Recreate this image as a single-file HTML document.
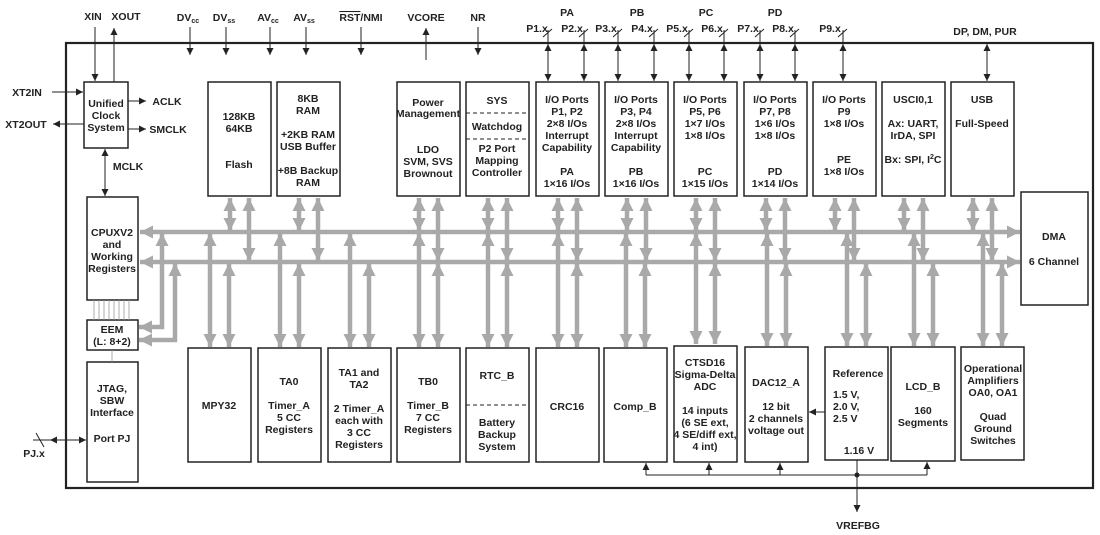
<!DOCTYPE html>
<html><head><meta charset="utf-8"><style>
body{margin:0;background:#fff}
svg{display:block}
text{font-family:"Liberation Sans",sans-serif;font-weight:bold;font-size:10.5px;fill:#222;text-anchor:middle}
.b{fill:#fff;stroke:#222;stroke-width:1.5}
.g{stroke:#a9a9a9;stroke-width:4.5;fill:none}
.k{stroke:#222;stroke-width:1;fill:none}
</style></head><body>
<svg width="1100" height="535" viewBox="0 0 1100 535" xmlns="http://www.w3.org/2000/svg">
<defs>
<marker id="ga" markerUnits="userSpaceOnUse" markerWidth="14" markerHeight="14" refX="13" refY="6.5" orient="auto-start-reverse"><path d="M0,0 L13,6.5 L0,13 z" fill="#a9a9a9"/></marker>
<marker id="ka" markerUnits="userSpaceOnUse" markerWidth="8" markerHeight="8" refX="7" refY="3.5" orient="auto-start-reverse"><path d="M0,0 L7,3.5 L0,7 z" fill="#222"/></marker>
</defs>
<rect x="66" y="43" width="1027" height="445" fill="none" stroke="#222" stroke-width="2.2"/>

<g class="g" marker-start="url(#ga)" marker-end="url(#ga)">
<line x1="140" y1="232" x2="1020" y2="232"/>
<line x1="140" y1="262" x2="1020" y2="262"/>
</g>
<g class="g" marker-start="url(#ga)" marker-end="url(#ga)">
<path d="M230,198 V231"/><path d="M249,198 V261"/>
<path d="M299,198 V231"/><path d="M318,198 V261"/>
<path d="M419,198 V231"/><path d="M438,198 V261"/>
<path d="M488,198 V231"/><path d="M507,198 V261"/>
<path d="M558,198 V231"/><path d="M577,198 V261"/>
<path d="M627,198 V231"/><path d="M646,198 V261"/>
<path d="M696,198 V231"/><path d="M715,198 V261"/>
<path d="M766,198 V231"/><path d="M785,198 V261"/>
<path d="M835,198 V231"/><path d="M854,198 V261"/>
<path d="M904,198 V231"/><path d="M923,198 V261"/>
<path d="M973,198 V231"/><path d="M992,198 V261"/>
<path d="M210,233 V347"/><path d="M229,263 V347"/>
<path d="M280,233 V347"/><path d="M299,263 V347"/>
<path d="M350,233 V347"/><path d="M369,263 V347"/>
<path d="M419,233 V347"/><path d="M438,263 V347"/>
<path d="M488,233 V347"/><path d="M507,263 V347"/>
<path d="M558,233 V347"/><path d="M577,263 V347"/>
<path d="M626,233 V347"/><path d="M645,263 V347"/>
<path d="M696,233 V344"/><path d="M715,263 V344"/>
<path d="M767,233 V346"/><path d="M786,263 V346"/>
<path d="M847,233 V346"/><path d="M866,263 V346"/>
<path d="M914,233 V346"/><path d="M933,263 V346"/>
<path d="M983,233 V346"/><path d="M1002,263 V346"/>
<path d="M162,233 V327 H139"/><path d="M175,263 V340 H139"/>
</g>

<rect class="b" x="84" y="82" width="44" height="66"/>
<rect class="b" x="208" y="82" width="63" height="114"/>
<rect class="b" x="277" y="82" width="63" height="114"/>
<rect class="b" x="397" y="82" width="63" height="114"/>
<rect class="b" x="466" y="82" width="63" height="114"/>
<rect class="b" x="536" y="82" width="63" height="114"/>
<rect class="b" x="605" y="82" width="63" height="114"/>
<rect class="b" x="674" y="82" width="63" height="114"/>
<rect class="b" x="744" y="82" width="63" height="114"/>
<rect class="b" x="813" y="82" width="63" height="114"/>
<rect class="b" x="882" y="82" width="63" height="114"/>
<rect class="b" x="951" y="82" width="63" height="114"/>
<rect class="b" x="1021" y="192" width="67" height="113"/>
<rect class="b" x="87" y="197" width="51" height="103"/>
<rect class="b" x="87" y="320" width="51" height="30"/>
<rect class="b" x="87" y="362" width="51" height="120"/>
<rect class="b" x="188" y="348" width="63" height="114"/>
<rect class="b" x="258" y="348" width="63" height="114"/>
<rect class="b" x="328" y="348" width="63" height="114"/>
<rect class="b" x="397" y="348" width="63" height="114"/>
<rect class="b" x="466" y="348" width="63" height="114"/>
<rect class="b" x="536" y="348" width="63" height="114"/>
<rect class="b" x="604" y="348" width="63" height="114"/>
<rect class="b" x="674" y="346" width="63" height="116"/>
<rect class="b" x="745" y="347" width="63" height="115"/>
<rect class="b" x="825" y="347" width="63" height="113"/>
<rect class="b" x="891" y="347" width="64" height="114"/>
<rect class="b" x="961" y="347" width="63" height="113"/>

<g stroke="#222" stroke-dasharray="4,3" stroke-width="1">
<line x1="466" y1="113" x2="529" y2="113"/><line x1="466" y1="139" x2="529" y2="139"/>
<line x1="466" y1="405" x2="529" y2="405"/>
</g>
<g stroke="#999" stroke-width="0.8">
<line x1="94" y1="300" x2="94" y2="320"/><line x1="99" y1="300" x2="99" y2="320"/><line x1="104" y1="300" x2="104" y2="320"/><line x1="109" y1="300" x2="109" y2="320"/><line x1="114" y1="300" x2="114" y2="320"/><line x1="119" y1="300" x2="119" y2="320"/><line x1="124" y1="300" x2="124" y2="320"/><line x1="129" y1="300" x2="129" y2="320"/>
<line x1="112" y1="350" x2="112" y2="362"/>
</g>

<g class="k">
<path d="M95,27 V81" marker-end="url(#ka)"/>
<path d="M114,82 V28" marker-end="url(#ka)"/>
<path d="M52,92 H83" marker-end="url(#ka)"/>
<path d="M84,124 H53" marker-end="url(#ka)"/>
<path d="M128,101 H146" marker-end="url(#ka)"/>
<path d="M128,129 H146" marker-end="url(#ka)"/>
<path d="M105,149 V196" marker-start="url(#ka)" marker-end="url(#ka)"/>
<path d="M190,27 V55" marker-end="url(#ka)"/>
<path d="M226,27 V55" marker-end="url(#ka)"/>
<path d="M270,27 V55" marker-end="url(#ka)"/>
<path d="M306,27 V55" marker-end="url(#ka)"/>
<path d="M361,27 V55" marker-end="url(#ka)"/>
<path d="M426,60 V28" marker-end="url(#ka)"/>
<path d="M478,27 V55" marker-end="url(#ka)"/>
<path d="M548,30 V81" marker-end="url(#ka)"/><path d="M548,60 V44" marker-end="url(#ka)"/>
<path d="M584,30 V81" marker-end="url(#ka)"/><path d="M584,60 V44" marker-end="url(#ka)"/>
<path d="M618,30 V81" marker-end="url(#ka)"/><path d="M618,60 V44" marker-end="url(#ka)"/>
<path d="M654,30 V81" marker-end="url(#ka)"/><path d="M654,60 V44" marker-end="url(#ka)"/>
<path d="M689,30 V81" marker-end="url(#ka)"/><path d="M689,60 V44" marker-end="url(#ka)"/>
<path d="M724,30 V81" marker-end="url(#ka)"/><path d="M724,60 V44" marker-end="url(#ka)"/>
<path d="M760,30 V81" marker-end="url(#ka)"/><path d="M760,60 V44" marker-end="url(#ka)"/>
<path d="M795,30 V81" marker-end="url(#ka)"/><path d="M795,60 V44" marker-end="url(#ka)"/>
<path d="M843,30 V81" marker-end="url(#ka)"/><path d="M843,60 V44" marker-end="url(#ka)"/>
<path d="M987,60 V81" marker-end="url(#ka)"/><path d="M987,60 V44" marker-end="url(#ka)"/>
<path d="M543,37 L552,29 M579,37 L588,29 M613,37 L622,29 M649,37 L658,29 M684,37 L693,29 M719,37 L728,29 M755,37 L764,29 M790,37 L799,29 M838,37 L847,29"/>
<path d="M33,440 H86" marker-end="url(#ka)"/><path d="M60,440 H50" marker-end="url(#ka)"/>
<path d="M36,433 L44,447"/>
<path d="M825,412 H809" marker-end="url(#ka)"/>
<path d="M646,475 H927"/>
<path d="M646,475 V463" marker-end="url(#ka)"/>
<path d="M709,475 V463" marker-end="url(#ka)"/>
<path d="M780,475 V463" marker-end="url(#ka)"/>
<path d="M927,475 V462" marker-end="url(#ka)"/>
<path d="M857,460 V512" marker-end="url(#ka)"/>
</g>
<circle cx="857" cy="475" r="2.5" fill="#222"/>

<text x="93" y="20">XIN</text><text x="126" y="20">XOUT</text>
<text x="188" y="21">DV<tspan font-size="7" dy="2">cc</tspan></text>
<text x="224" y="21">DV<tspan font-size="7" dy="2">ss</tspan></text>
<text x="268" y="21">AV<tspan font-size="7" dy="2">cc</tspan></text>
<text x="304" y="21">AV<tspan font-size="7" dy="2">ss</tspan></text>
<text x="361" y="21"><tspan text-decoration="overline">RST</tspan>/NMI</text>
<text x="426" y="21">VCORE</text><text x="478" y="21">NR</text>
<text x="567" y="16">PA</text><text x="637" y="16">PB</text><text x="706" y="16">PC</text><text x="775" y="16">PD</text>
<text x="537" y="32">P1.x</text><text x="572" y="32">P2.x</text><text x="606" y="32">P3.x</text><text x="642" y="32">P4.x</text>
<text x="677" y="32">P5.x</text><text x="712" y="32">P6.x</text><text x="748" y="32">P7.x</text><text x="783" y="32">P8.x</text><text x="830" y="32">P9.x</text>
<text x="985" y="35">DP, DM, PUR</text>
<text x="27" y="96">XT2IN</text><text x="26" y="128">XT2OUT</text>
<text x="167" y="105">ACLK</text><text x="168" y="133">SMCLK</text>
<text x="128" y="170">MCLK</text>
<text x="34" y="457">PJ.x</text>

<text x="106" y="107" font-size="10">Unified</text><text x="106" y="119" font-size="10">Clock</text><text x="106" y="131" font-size="10">System</text>
<text x="239" y="120">128KB</text><text x="239" y="132">64KB</text><text x="239" y="168">Flash</text>
<text x="308" y="102">8KB</text><text x="308" y="114">RAM</text><text x="308" y="138">+2KB RAM</text><text x="308" y="150">USB Buffer</text><text x="308" y="174">+8B Backup</text><text x="308" y="186">RAM</text>
<text x="428" y="106">Power</text><text x="428" y="117" font-size="9.5">Management</text><text x="428" y="153">LDO</text><text x="428" y="165">SVM, SVS</text><text x="428" y="177">Brownout</text>
<text x="497" y="104">SYS</text><text x="497" y="130">Watchdog</text><text x="497" y="152">P2 Port</text><text x="497" y="164">Mapping</text><text x="497" y="176">Controller</text>
<g>
<text x="567" y="103">I/O Ports</text><text x="567" y="115">P1, P2</text><text x="567" y="127">2×8 I/Os</text><text x="567" y="139">Interrupt</text><text x="567" y="151">Capability</text><text x="567" y="175">PA</text><text x="567" y="187">1×16 I/Os</text>
<text x="636" y="103">I/O Ports</text><text x="636" y="115">P3, P4</text><text x="636" y="127">2×8 I/Os</text><text x="636" y="139">Interrupt</text><text x="636" y="151">Capability</text><text x="636" y="175">PB</text><text x="636" y="187">1×16 I/Os</text>
<text x="705" y="103">I/O Ports</text><text x="705" y="115">P5, P6</text><text x="705" y="127">1×7 I/Os</text><text x="705" y="139">1×8 I/Os</text><text x="705" y="175">PC</text><text x="705" y="187">1×15 I/Os</text>
<text x="775" y="103">I/O Ports</text><text x="775" y="115">P7, P8</text><text x="775" y="127">1×6 I/Os</text><text x="775" y="139">1×8 I/Os</text><text x="775" y="175">PD</text><text x="775" y="187">1×14 I/Os</text>
<text x="844" y="103">I/O Ports</text><text x="844" y="115">P9</text><text x="844" y="127">1×8 I/Os</text><text x="844" y="163">PE</text><text x="844" y="175">1×8 I/Os</text>
<text x="913" y="103">USCI0,1</text><text x="913" y="127">Ax: UART,</text><text x="913" y="139">IrDA, SPI</text><text x="913" y="163">Bx: SPI, I<tspan font-size="7" dy="-4">2</tspan><tspan dy="4">C</tspan></text>
<text x="982" y="103">USB</text><text x="982" y="127">Full-Speed</text>
</g>
<text x="1054" y="240">DMA</text><text x="1054" y="265">6 Channel</text>
<text x="112" y="236">CPUXV2</text><text x="112" y="248">and</text><text x="112" y="260">Working</text><text x="112" y="272">Registers</text>
<text x="112" y="333">EEM</text><text x="112" y="345">(L: 8+2)</text>
<text x="112" y="392">JTAG,</text><text x="112" y="404">SBW</text><text x="112" y="416">Interface</text><text x="112" y="442">Port PJ</text>
<text x="219" y="409">MPY32</text>
<text x="289" y="385">TA0</text><text x="289" y="409">Timer_A</text><text x="289" y="421">5 CC</text><text x="289" y="433">Registers</text>
<text x="359" y="376">TA1 and</text><text x="359" y="388">TA2</text><text x="359" y="412">2 Timer_A</text><text x="359" y="424">each with</text><text x="359" y="436">3 CC</text><text x="359" y="448">Registers</text>
<text x="428" y="385">TB0</text><text x="428" y="409">Timer_B</text><text x="428" y="421">7 CC</text><text x="428" y="433">Registers</text>
<text x="497" y="379">RTC_B</text><text x="497" y="426">Battery</text><text x="497" y="438">Backup</text><text x="497" y="450">System</text>
<text x="567" y="410">CRC16</text>
<text x="635" y="410">Comp_B</text>
<text x="705" y="366">CTSD16</text><text x="705" y="378">Sigma-Delta</text><text x="705" y="390">ADC</text><text x="705" y="414">14 inputs</text><text x="705" y="426">(6 SE ext,</text><text x="705" y="438">4 SE/diff ext,</text><text x="705" y="450">4 int)</text>
<text x="776" y="386">DAC12_A</text><text x="776" y="410">12 bit</text><text x="776" y="422">2 channels</text><text x="776" y="434">voltage out</text>
<text x="858" y="377">Reference</text>
<text x="833" y="398" style="text-anchor:start">1.5 V,</text><text x="833" y="410" style="text-anchor:start">2.0 V,</text><text x="833" y="422" style="text-anchor:start">2.5 V</text>
<text x="859" y="454">1.16 V</text>
<text x="923" y="390">LCD_B</text><text x="923" y="414">160</text><text x="923" y="426">Segments</text>
<text x="993" y="372">Operational</text><text x="993" y="384">Amplifiers</text><text x="993" y="396">OA0, OA1</text><text x="993" y="420">Quad</text><text x="993" y="432">Ground</text><text x="993" y="444">Switches</text>
<text x="858" y="529">VREFBG</text>
</svg>
</body></html>
